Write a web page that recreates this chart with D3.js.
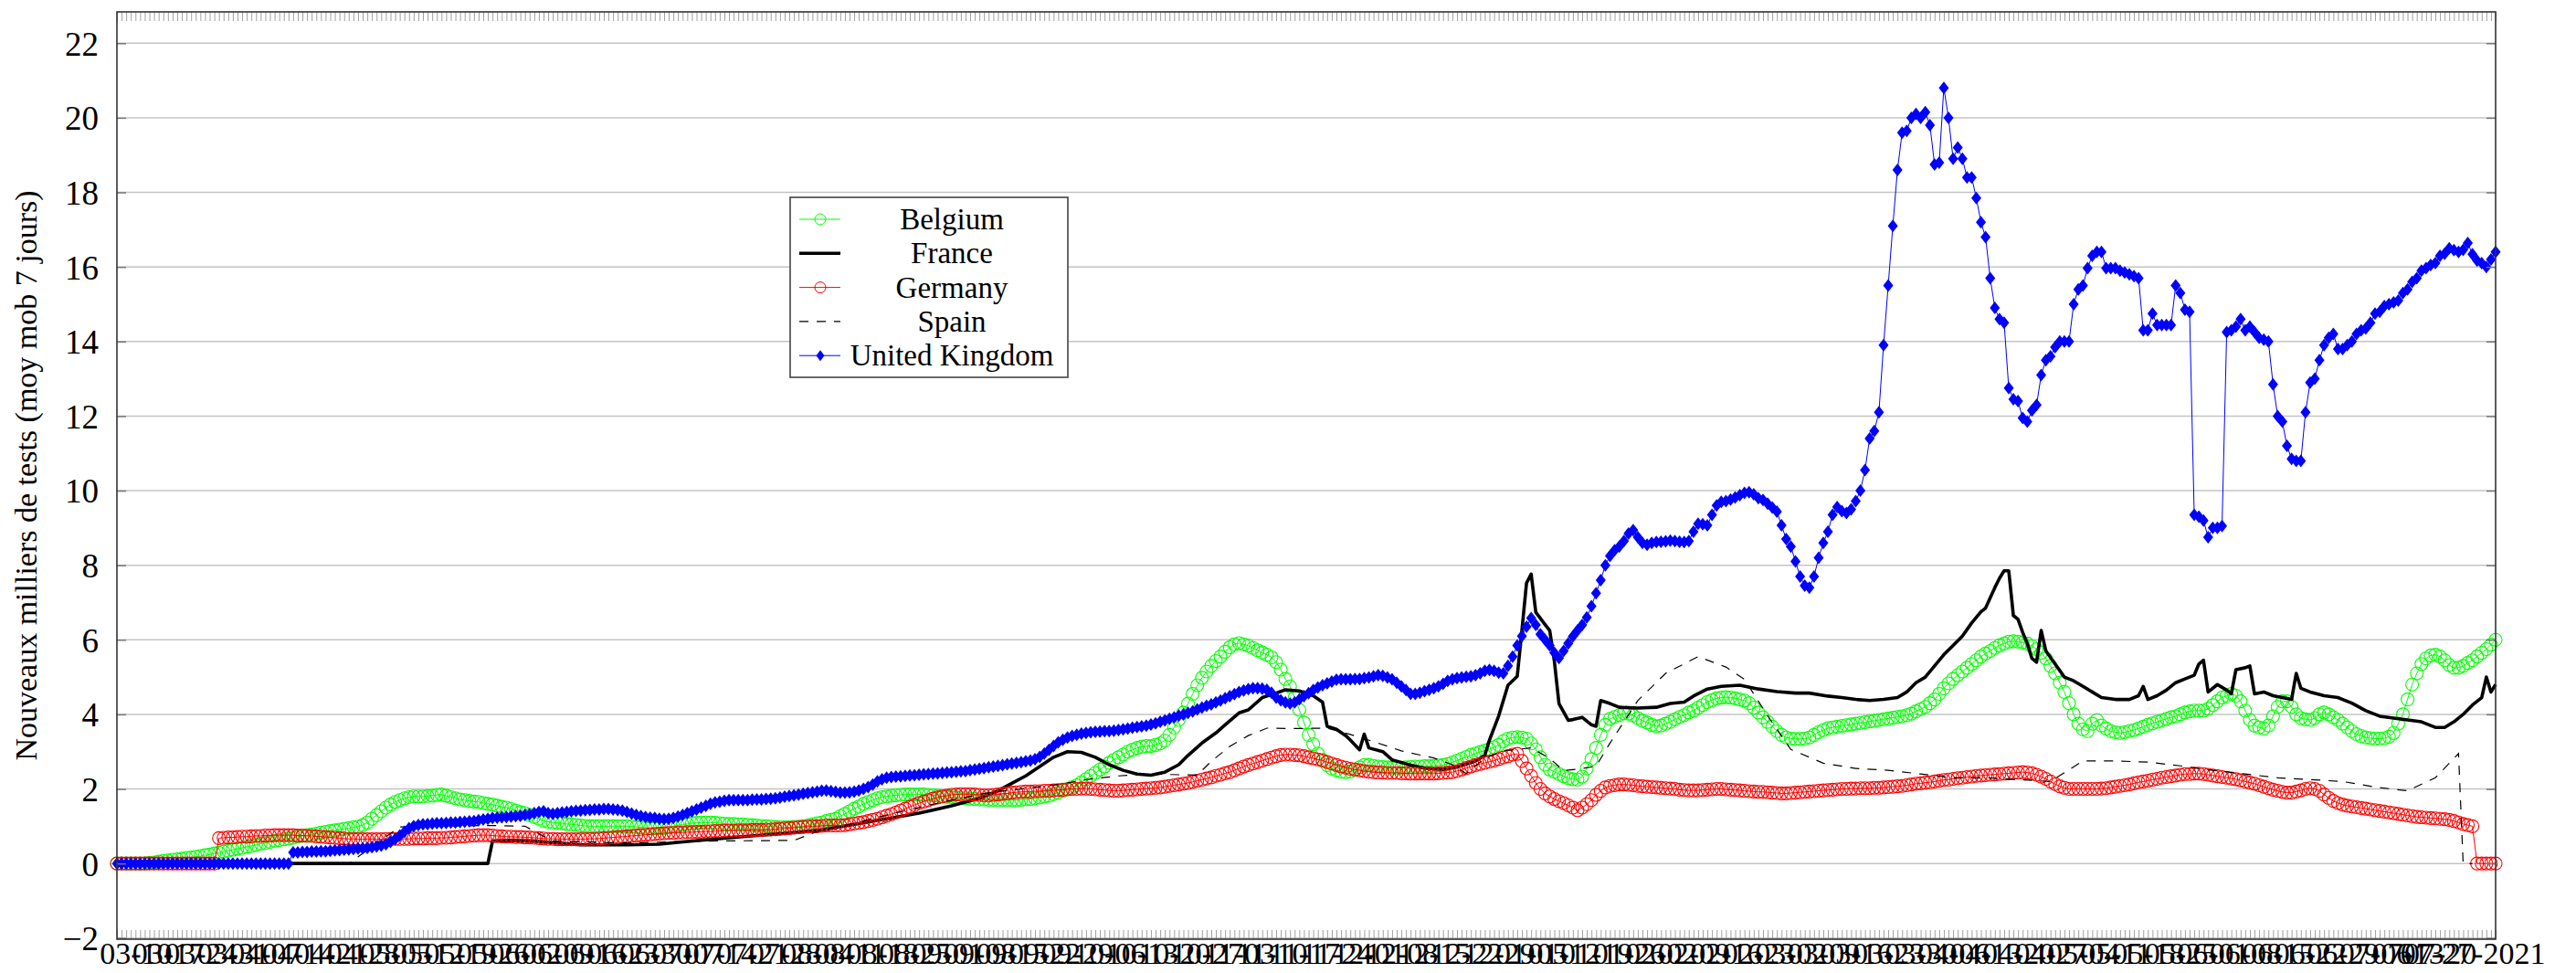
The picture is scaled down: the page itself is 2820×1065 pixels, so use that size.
<!DOCTYPE html>
<html>
<head>
<meta charset="utf-8">
<script src="https://cdn.jsdelivr.net/npm/d3@7"></script>
<style>
  body { margin: 0; background: #fff; }
  svg { display: block; }
  text { font-family: "Liberation Serif", "DejaVu Serif", serif; fill: #000; }
</style>
</head>
<body>
<div id="chart"></div>
<script>
// daily series, day 0 = 2020-03-06
var startDate = new Date(Date.UTC(2020, 2, 6));
var countries = ["Belgium", "France", "Germany", "Spain", "United Kingdom"];
var yTicks = [-2, 0, 2, 4, 6, 8, 10, 12, 14, 16, 18, 20, 22];

var belgium = [
0,0,0,0,0,0,0,0.02,0.03,0.05,
0.07,0.08,0.1,0.11,0.13,0.15,0.16,0.18,0.2,0.22,
0.24,0.27,0.29,0.32,0.34,0.37,0.4,0.42,0.45,0.47,
0.5,0.53,0.55,0.58,0.61,0.63,0.65,0.67,0.69,0.72,
0.74,0.76,0.78,0.8,0.83,0.85,0.87,0.89,0.91,0.93,
0.95,0.97,0.99,1.03,1.1,1.2,1.3,1.4,1.5,1.58,
1.65,1.7,1.75,1.78,1.8,1.8,1.8,1.81,1.82,1.84,
1.85,1.82,1.78,1.75,1.72,1.7,1.68,1.66,1.65,1.62,
1.6,1.58,1.55,1.52,1.5,1.46,1.42,1.38,1.35,1.3,
1.25,1.2,1.15,1.12,1.1,1.09,1.08,1.06,1.05,1.04,
1.02,1.01,1,1,1,1,1,1,1,1,
1,0.99,0.98,0.97,0.96,0.95,0.95,0.95,0.95,0.97,
1,1.02,1.04,1.06,1.08,1.09,1.1,1.1,1.1,1.09,
1.08,1.07,1.06,1.06,1.05,1.05,1.04,1.03,1.02,1.01,
1,0.99,0.98,0.97,0.97,0.97,0.98,0.99,1,1.02,
1.05,1.08,1.1,1.14,1.17,1.2,1.27,1.33,1.4,1.47,
1.53,1.6,1.65,1.7,1.75,1.78,1.8,1.82,1.83,1.84,
1.85,1.85,1.85,1.85,1.85,1.84,1.83,1.82,1.8,1.79,
1.78,1.77,1.76,1.75,1.74,1.73,1.72,1.72,1.71,1.71,
1.7,1.7,1.7,1.7,1.7,1.71,1.72,1.73,1.75,1.77,
1.8,1.82,1.86,1.9,1.95,2,2.05,2.1,2.18,2.26,
2.35,2.43,2.52,2.6,2.7,2.78,2.85,2.92,3,3.05,
3.1,3.13,3.15,3.15,3.18,3.22,3.3,3.45,3.65,3.85,
4.05,4.29,4.55,4.78,4.98,5.15,5.3,5.43,5.55,5.68,
5.8,5.88,5.91,5.88,5.84,5.78,5.72,5.66,5.6,5.53,
5.4,5.2,4.95,4.75,4.45,4.12,3.78,3.45,3.2,2.95,
2.78,2.64,2.55,2.5,2.46,2.45,2.47,2.52,2.58,2.64,
2.64,2.62,2.6,2.59,2.58,2.57,2.57,2.57,2.58,2.59,
2.6,2.6,2.61,2.61,2.62,2.63,2.64,2.67,2.71,2.76,
2.81,2.86,2.91,2.95,2.99,3.03,3.07,3.12,3.18,3.28,
3.35,3.38,3.39,3.38,3.35,3.22,3.06,2.85,2.65,2.52,
2.46,2.4,2.34,2.29,2.26,2.25,2.33,2.55,2.8,3.1,
3.45,3.72,3.88,3.93,3.98,4.03,4.02,3.97,3.9,3.83,
3.78,3.72,3.68,3.7,3.75,3.8,3.87,3.93,3.98,4.05,
4.1,4.18,4.25,4.33,4.38,4.43,4.45,4.46,4.45,4.43,
4.4,4.37,4.3,4.18,4.05,3.92,3.8,3.67,3.55,3.45,
3.38,3.35,3.34,3.34,3.35,3.38,3.45,3.52,3.58,3.63,
3.65,3.67,3.69,3.71,3.73,3.75,3.77,3.79,3.81,3.83,
3.85,3.87,3.89,3.91,3.93,3.95,3.98,4.02,4.08,4.14,
4.2,4.3,4.4,4.55,4.7,4.83,4.95,5.05,5.15,5.25,
5.35,5.45,5.55,5.63,5.7,5.78,5.85,5.9,5.95,5.96,
5.95,5.93,5.9,5.83,5.75,5.65,5.5,5.3,5.1,4.85,
4.6,4.3,4,3.75,3.6,3.55,3.75,3.85,3.7,3.62,
3.55,3.52,3.5,3.52,3.55,3.58,3.62,3.67,3.72,3.76,
3.8,3.84,3.88,3.92,3.95,4,4.05,4.08,4.1,4.1,
4.1,4.15,4.25,4.35,4.45,4.5,4.55,4.5,4.35,4.1,
3.85,3.7,3.65,3.62,3.7,3.95,4.2,4.35,4.35,4.2,
4,3.9,3.87,3.85,3.9,4,4.05,4,3.92,3.85,
3.75,3.65,3.55,3.47,3.42,3.38,3.36,3.35,3.35,3.36,
3.4,3.5,3.75,4,4.4,4.8,5.1,5.35,5.5,5.58,
5.6,5.55,5.45,5.32,5.25,5.25,5.3,5.38,5.45,5.55,
5.65,5.75,5.87,6
];

var germany = [
0,0,0,0,0,0,0,0,0,0,
0,0,0,0,0,0,0,0,0,0,
0,0,0.68,0.69,0.7,0.7,0.71,0.72,0.72,0.73,
0.74,0.74,0.75,0.75,0.76,0.76,0.76,0.76,0.76,0.75,
0.75,0.74,0.74,0.73,0.72,0.71,0.7,0.69,0.68,0.67,
0.66,0.66,0.65,0.65,0.65,0.65,0.65,0.65,0.66,0.66,
0.66,0.66,0.66,0.66,0.67,0.67,0.67,0.68,0.68,0.68,
0.69,0.69,0.7,0.71,0.72,0.73,0.74,0.75,0.76,0.76,
0.76,0.75,0.74,0.73,0.72,0.72,0.71,0.71,0.7,0.7,
0.69,0.68,0.67,0.66,0.66,0.65,0.65,0.65,0.65,0.65,
0.65,0.65,0.66,0.66,0.67,0.68,0.69,0.7,0.71,0.72,
0.73,0.74,0.75,0.76,0.77,0.78,0.79,0.8,0.81,0.82,
0.82,0.83,0.83,0.84,0.84,0.85,0.85,0.86,0.86,0.87,
0.87,0.88,0.88,0.88,0.89,0.89,0.89,0.9,0.9,0.9,
0.91,0.91,0.92,0.93,0.94,0.95,0.96,0.97,0.98,0.99,
1,1,1.01,1.02,1.02,1.02,1.02,1.03,1.05,1.07,
1.09,1.11,1.14,1.17,1.2,1.24,1.28,1.32,1.37,1.42,
1.47,1.52,1.57,1.62,1.66,1.7,1.74,1.77,1.8,1.82,
1.84,1.85,1.86,1.86,1.86,1.85,1.84,1.83,1.83,1.84,
1.85,1.87,1.88,1.9,1.91,1.92,1.93,1.93,1.94,1.94,
1.95,1.95,1.96,1.97,1.98,1.99,2,2,2.01,2.01,
2,1.99,1.98,1.97,1.96,1.95,1.95,1.96,1.97,1.98,
1.99,2,2.01,2.02,2.03,2.04,2.06,2.08,2.1,2.12,
2.14,2.16,2.19,2.22,2.25,2.28,2.31,2.35,2.38,2.42,
2.45,2.5,2.55,2.6,2.64,2.68,2.72,2.76,2.8,2.84,
2.88,2.91,2.92,2.92,2.91,2.9,2.88,2.85,2.82,2.79,
2.76,2.72,2.68,2.64,2.6,2.57,2.54,2.52,2.5,2.48,
2.46,2.45,2.44,2.44,2.43,2.43,2.43,2.42,2.42,2.41,
2.41,2.41,2.41,2.41,2.41,2.42,2.43,2.44,2.45,2.48,
2.52,2.56,2.6,2.64,2.67,2.7,2.73,2.76,2.8,2.84,
2.88,2.92,2.94,2.75,2.55,2.35,2.16,2,1.88,1.8,
1.73,1.67,1.62,1.56,1.5,1.43,1.5,1.59,1.7,1.84,
1.95,2.04,2.08,2.1,2.12,2.12,2.11,2.1,2.08,2.07,
2.06,2.05,2.04,2.03,2.02,2.01,2,1.98,1.97,1.96,
1.96,1.96,1.97,1.98,1.99,2,2,1.99,1.98,1.97,
1.96,1.95,1.94,1.93,1.92,1.92,1.91,1.9,1.89,1.88,
1.88,1.89,1.9,1.91,1.92,1.93,1.94,1.95,1.96,1.97,
1.98,1.99,2,2,2.01,2.01,2.02,2.02,2.02,2.03,
2.03,2.04,2.05,2.06,2.07,2.08,2.1,2.12,2.14,2.15,
2.17,2.18,2.2,2.22,2.24,2.25,2.27,2.29,2.3,2.32,
2.33,2.35,2.36,2.37,2.38,2.39,2.4,2.41,2.42,2.43,
2.44,2.45,2.44,2.42,2.38,2.33,2.27,2.2,2.13,2.07,
2.03,2,2,2,2,2,2,2,2.01,2.02,
2.04,2.06,2.08,2.1,2.12,2.15,2.18,2.2,2.22,2.25,
2.27,2.3,2.32,2.34,2.36,2.38,2.4,2.4,2.41,2.41,
2.4,2.38,2.36,2.34,2.32,2.3,2.28,2.26,2.23,2.2,
2.17,2.14,2.1,2.06,2.02,1.98,1.95,1.92,1.9,1.9,
1.93,1.96,2,2.02,2,1.95,1.85,1.76,1.68,1.62,
1.58,1.55,1.53,1.51,1.49,1.47,1.45,1.43,1.41,1.39,
1.37,1.35,1.33,1.31,1.29,1.27,1.25,1.24,1.23,1.22,
1.21,1.2,1.19,1.17,1.14,1.1,1.06,1.03,1,0,
0,0,0,0
];

var unitedKingdom = [
0,0,0,0,0,0,0,0,0,0,
0,0,0,0,0,0,0,0,0,0,
0,0,0,0,0,0,0,0,0,0,
0,0,0,0,0,0,0,0,0.3,0.3,
0.31,0.31,0.32,0.32,0.33,0.33,0.34,0.35,0.36,0.37,
0.38,0.39,0.4,0.41,0.42,0.44,0.46,0.48,0.52,0.58,
0.65,0.75,0.85,0.95,1,1.03,1.05,1.06,1.07,1.08,
1.08,1.09,1.1,1.1,1.11,1.12,1.13,1.14,1.16,1.18,
1.2,1.22,1.23,1.24,1.25,1.26,1.27,1.28,1.3,1.32,
1.35,1.38,1.4,1.35,1.33,1.35,1.37,1.38,1.4,1.41,
1.42,1.43,1.44,1.45,1.45,1.46,1.46,1.45,1.44,1.42,
1.38,1.34,1.3,1.27,1.25,1.23,1.22,1.2,1.19,1.2,
1.22,1.26,1.3,1.35,1.4,1.45,1.5,1.55,1.6,1.64,
1.66,1.68,1.7,1.7,1.7,1.7,1.7,1.71,1.72,1.72,
1.73,1.74,1.75,1.77,1.79,1.81,1.83,1.85,1.87,1.89,
1.91,1.93,1.95,1.96,1.94,1.92,1.9,1.9,1.91,1.93,
1.96,2,2.05,2.12,2.2,2.26,2.3,2.32,2.33,2.34,
2.35,2.36,2.37,2.38,2.39,2.4,2.41,2.42,2.43,2.44,
2.45,2.46,2.47,2.48,2.5,2.52,2.54,2.56,2.58,2.6,
2.62,2.64,2.66,2.68,2.7,2.72,2.74,2.76,2.8,2.86,
2.95,3.05,3.15,3.25,3.32,3.38,3.42,3.45,3.48,3.5,
3.52,3.53,3.54,3.55,3.55,3.56,3.58,3.6,3.62,3.64,
3.66,3.68,3.7,3.73,3.76,3.8,3.84,3.88,3.92,3.97,
4,4.04,4.08,4.13,4.18,4.23,4.27,4.32,4.37,4.43,
4.49,4.54,4.6,4.64,4.68,4.7,4.7,4.69,4.66,4.58,
4.45,4.38,4.32,4.29,4.32,4.4,4.49,4.57,4.65,4.72,
4.78,4.83,4.88,4.93,4.94,4.94,4.94,4.95,4.95,4.97,
4.99,5.02,5.05,5.03,4.99,4.94,4.85,4.75,4.65,4.55,
4.55,4.58,4.62,4.66,4.7,4.75,4.82,4.9,4.94,4.97,
4.99,5.01,5.02,5.05,5.1,5.17,5.19,5.17,5.12,5.1,
5.3,5.55,5.85,6.1,6.35,6.58,6.4,6.15,6,5.85,
5.65,5.51,5.7,5.9,6.09,6.25,6.4,6.6,6.9,7.25,
7.6,8,8.25,8.4,8.5,8.65,8.85,8.94,8.75,8.6,
8.55,8.6,8.62,8.63,8.64,8.66,8.65,8.63,8.62,8.65,
8.9,9.11,9.1,9.07,9.35,9.6,9.7,9.72,9.76,9.82,
9.88,9.94,9.96,9.9,9.8,9.75,9.65,9.55,9.44,9.07,
8.7,8.5,8.1,7.7,7.45,7.4,7.7,8.2,8.6,8.9,
9.35,9.56,9.45,9.4,9.5,9.72,10,10.55,11.4,11.6,
12.1,13.9,15.5,17.1,18.6,19.6,19.65,20,20.1,20,
20.15,19.8,18.75,18.8,20.8,20,18.9,19.2,18.9,18.4,
18.4,17.85,17.2,16.8,15.7,14.9,14.6,14.5,12.75,12.45,
12.4,11.95,11.85,12.15,12.3,13.1,13.5,13.6,13.85,14,
14,14,15,15.4,15.5,15.97,16.3,16.4,16.4,15.97,
15.97,15.97,15.9,15.85,15.8,15.75,15.7,14.3,14.3,14.75,
14.44,14.44,14.44,14.44,15.5,15.3,14.85,14.8,9.35,9.3,
9.2,8.75,9,9,9.05,14.25,14.3,14.4,14.6,14.3,
14.4,14.25,14.1,14.05,14,12.85,12,11.85,11.2,10.85,
10.8,10.8,12.1,12.9,13,13.5,13.9,14.1,14.2,13.8,
13.8,13.9,14,14.2,14.3,14.35,14.5,14.75,14.8,14.95,
15,15.05,15.1,15.3,15.4,15.6,15.7,15.9,15.97,16.05,
16.1,16.3,16.35,16.5,16.45,16.4,16.46,16.64,16.34,16.17,
16.1,16,16.2,16.4
];

// [day, value] points (no markers on these lines)
var france = [
[0,0],[80,0],[81,0.6],[85,0.62],[90,0.6],[95,0.55],[100,0.5],[110,0.5],[117,0.52],[122,0.58],
[131,0.68],[138,0.75],[145,0.82],[152,0.9],[159,1.05],[166,1.2],[173,1.35],[180,1.55],[186,1.75],
[190,1.95],[193,2.15],[196,2.35],[199,2.6],[202,2.85],[205,3],[208,2.98],[211,2.85],[214,2.65],
[217,2.5],[220,2.4],[223,2.37],[226,2.45],[229,2.65],[231,2.9],[234,3.23],[237,3.5],[239,3.72],[242,4.04],
[244,4.12],[247,4.45],[250,4.57],[252,4.66],[255,4.63],[258,4.5],[260,4.33],[261,3.68],[263,3.6],
[265,3.43],[266,3.31],[268,3.05],[269,3.47],[270,3.1],[273,3],[275,2.78],[279,2.64],[282,2.56],
[286,2.52],[289,2.59],[293,2.75],[295,2.9],[296,3.31],[298,3.96],[300,4.78],[302,5.02],[303,6.25],
[304,7.52],[305,7.76],[306,6.74],[308,6.41],[309,6.25],[310,5.43],[311,4.29],[313,3.84],[314,3.86],
[316,3.92],[318,3.72],[319,3.68],[320,4.37],[322,4.29],[324,4.19],[328,4.17],[332,4.19],[335,4.29],
[338,4.33],[340,4.49],[343,4.68],[346,4.75],[350,4.78],[354,4.68],[358,4.61],[362,4.57],[365,4.57],
[369,4.49],[372,4.45],[375,4.4],[378,4.37],[381,4.4],[384,4.45],[386,4.6],[388,4.85],[390,5],
[392,5.3],[394,5.6],[396,5.85],[398,6.1],[400,6.45],[402,6.75],[403,6.85],[405,7.4],[406,7.65],
[407,7.85],[408,7.85],[409,6.65],[410,6.55],[411,6.2],[412,5.9],[413,5.5],[414,5.4],[415,6.25],
[416,5.7],[418,5.35],[420,5],[422,4.9],[424,4.75],[426,4.6],[428,4.45],[431,4.4],[434,4.4],
[436,4.5],[437,4.75],[438,4.4],[440,4.5],[442,4.65],[444,4.85],[446,4.95],[448,5.05],[449,5.35],
[450,5.45],[451,4.6],[453,4.8],[455,4.65],[456,4.55],[457,5.2],[459,5.25],[460,5.3],[461,4.55],
[463,4.6],[465,4.5],[467,4.45],[469,4.4],[470,5.1],[471,4.7],[473,4.6],[476,4.5],[479,4.45],
[482,4.3],[485,4.1],[488,3.95],[491,3.9],[494,3.85],[497,3.8],[500,3.65],[502,3.65],[504,3.8],
[506,4],[508,4.25],[510,4.45],[511,5],[512,4.6],[513,4.8]
];

var spain = [
[0,0],[50,0],[55,0.45],[61,0.98],[70,1],[80,1.02],[88,1],[94,0.6],[110,0.55],[124,0.6],[146,0.62],
[152,0.9],[158,1.05],[166,1.3],[173,1.5],[180,1.7],[188,1.9],[195,2],[202,2.1],[209,2.25],[216,2.35],
[223,2.4],[229,2.38],[233,2.37],[236,2.74],[240,3.14],[244,3.43],[248,3.63],[254,3.62],[261,3.63],
[266,3.46],[271,3.27],[277,3.02],[284,2.83],[288,2.65],[291,2.41],[295,2.82],[299,3.02],[305,3.1],
[309,2.82],[312,2.49],[315,2.53],[319,2.61],[322,3.23],[325,3.8],[328,4.37],[334,5.1],[341,5.55],
[347,5.27],[351,4.94],[356,3.96],[361,3.06],[368,2.69],[375,2.55],[382,2.5],[389,2.4],[396,2.3],
[403,2.3],[410,2.25],[417,2.2],[424,2.75],[431,2.75],[438,2.72],[445,2.62],[452,2.5],[459,2.4],
[466,2.3],[473,2.25],[480,2.2],[487,2.05],[494,1.95],[500,2.3],[505,2.95],[506,0],[508,0]
];

var W = 2820, H = 1065;
var mLeft = 128, mRight = 2732, mTop = 13, mBottom = 1028;

var svg = d3.select("#chart").append("svg")
    .attr("width", W).attr("height", H);

function dayDate(i) { return d3.utcDay.offset(startDate, i); }
var lastDay = belgium.length - 1;

var x = d3.scaleUtc().domain([startDate, dayDate(lastDay)]).range([mLeft, mRight]);
var y = d3.scaleLinear().domain([-2.03, 22.84]).range([mBottom, mTop]);

// horizontal grid
svg.append("g").selectAll("line").data(yTicks).enter().append("line")
    .attr("x1", mLeft).attr("x2", mRight)
    .attr("y1", function(d) { return y(d); }).attr("y2", function(d) { return y(d); })
    .attr("stroke", "#c4c4c4").attr("stroke-width", 1.5);

var plot = svg.append("g");
var line = d3.line()
    .x(function(d) { return x(dayDate(d[0])); })
    .y(function(d) { return y(d[1]); });

function daily(arr) { return arr.map(function(v, i) { return [i, v]; }); }

var diamond = "M0,-7L5.5,0L0,7L-5.5,0Z";

function circles(data, color) {
  plot.append("path").attr("d", line(data))
      .attr("fill", "none").attr("stroke", color).attr("stroke-width", 1);
  plot.append("g").selectAll("circle").data(data).enter().append("circle")
      .attr("cx", function(d) { return x(dayDate(d[0])); })
      .attr("cy", function(d) { return y(d[1]); })
      .attr("r", 7).attr("fill", "none").attr("stroke", color).attr("stroke-width", 1.1);
}

// Belgium
circles(daily(belgium), "#00ff00");

// France
plot.append("path").attr("d", line(france))
    .attr("fill", "none").attr("stroke", "#000").attr("stroke-width", 3.6)
    .attr("stroke-linejoin", "round");

// Germany
circles(daily(germany), "#ff0000");

// Spain
plot.append("path").attr("d", line(spain))
    .attr("fill", "none").attr("stroke", "#000").attr("stroke-width", 1.2)
    .attr("stroke-dasharray", "10,9");

// United Kingdom
plot.append("path").attr("d", line(daily(unitedKingdom)))
    .attr("fill", "none").attr("stroke", "#0000ff").attr("stroke-width", 1);
plot.append("g").selectAll("path").data(daily(unitedKingdom)).enter().append("path")
    .attr("d", diamond)
    .attr("transform", function(d) { return "translate(" + x(dayDate(d[0])) + "," + y(d[1]) + ")"; })
    .attr("fill", "#0000ff");

// minor day ticks top and bottom
var days = d3.range(0, lastDay + 1).map(dayDate);
var bottomTicks = svg.append("g").attr("transform", "translate(0," + mBottom + ")")
    .call(d3.axisBottom(x).tickValues(days).tickSizeInner(-10).tickSizeOuter(0).tickFormat(""));
var topTicks = svg.append("g").attr("transform", "translate(0," + mTop + ")")
    .call(d3.axisTop(x).tickValues(days).tickSizeInner(-10).tickSizeOuter(0).tickFormat(""));
[bottomTicks, topTicks].forEach(function(g) {
  g.select(".domain").remove();
  g.selectAll("line").attr("stroke", "#a0a0a0").attr("stroke-width", 1);
});

// weekly labels
var weeks = d3.utcTuesday.range(dayDate(1), dayDate(lastDay));
var fmt = d3.utcFormat("%m-%d");
var xLab = svg.append("g").attr("transform", "translate(0," + mBottom + ")")
    .call(d3.axisBottom(x).tickValues(weeks).tickSize(0).tickPadding(0)
      .tickFormat(function(d, i) { return i === weeks.length - 1 ? d3.utcFormat("%m-%d-%Y")(d) : fmt(d); }));
xLab.select(".domain").remove();
xLab.selectAll("text").attr("font-size", 34).attr("dy", null).attr("y", 27)
    .attr("font-family", "Liberation Serif");

// y axis ticks left and right
var yl = svg.append("g").attr("transform", "translate(" + mLeft + ",0)")
    .call(d3.axisLeft(y).tickValues(yTicks).tickSizeInner(-10).tickSizeOuter(0).tickPadding(20)
      .tickFormat(function(d) { return d < 0 ? "\u2212" + Math.abs(d) : d; }));
yl.select(".domain").remove();
yl.selectAll("line").attr("stroke", "#777").attr("stroke-width", 1.5);
yl.selectAll("text").attr("font-size", 37).attr("font-family", "Liberation Serif").attr("dy", "0.35em");

var yr = svg.append("g").attr("transform", "translate(" + mRight + ",0)")
    .call(d3.axisRight(y).tickValues(yTicks).tickSizeInner(-10).tickSizeOuter(0).tickFormat(""));
yr.select(".domain").remove();
yr.selectAll("line").attr("stroke", "#777").attr("stroke-width", 1.5);

// frame
svg.append("rect").attr("x", mLeft).attr("y", mTop)
    .attr("width", mRight - mLeft).attr("height", mBottom - mTop)
    .attr("fill", "none").attr("stroke", "#333").attr("stroke-width", 1.6);

// y label
svg.append("text")
    .attr("transform", "translate(40," + ((mTop + mBottom) / 2) + ") rotate(-90)")
    .attr("text-anchor", "middle").attr("font-size", 34)
    .text("Nouveaux milliers de tests (moy mob 7 jours)");

// legend
var lg = svg.append("g").attr("transform", "translate(865,216)");
lg.append("rect").attr("width", 304).attr("height", 197)
    .attr("fill", "#fff").attr("stroke", "#444").attr("stroke-width", 1.6);
var styles = [
  {color: "#00ff00", width: 1, mark: "circle"},
  {color: "#000", width: 3.6, mark: null},
  {color: "#ff0000", width: 1, mark: "circle"},
  {color: "#000", width: 1.2, mark: null, dash: "10,9"},
  {color: "#0000ff", width: 1, mark: "diamond"}
];
countries.forEach(function(name, i) {
  var s = styles[i], cy = 24 + i * 37.3;
  lg.append("line").attr("x1", 10).attr("x2", 55).attr("y1", cy).attr("y2", cy)
    .attr("stroke", s.color).attr("stroke-width", s.width)
    .attr("stroke-dasharray", s.dash || null);
  if (s.mark === "circle") {
    lg.append("circle").attr("cx", 33).attr("cy", cy).attr("r", 6)
      .attr("fill", "none").attr("stroke", s.color).attr("stroke-width", 1);
  } else if (s.mark === "diamond") {
    lg.append("path").attr("d", "M0,-6L4.5,0L0,6L-4.5,0Z").attr("transform", "translate(33," + cy + ")")
      .attr("fill", s.color);
  }
  lg.append("text").attr("x", 177).attr("y", cy + 11)
    .attr("text-anchor", "middle").attr("font-size", 33).text(name);
});
</script>
</body>
</html>
